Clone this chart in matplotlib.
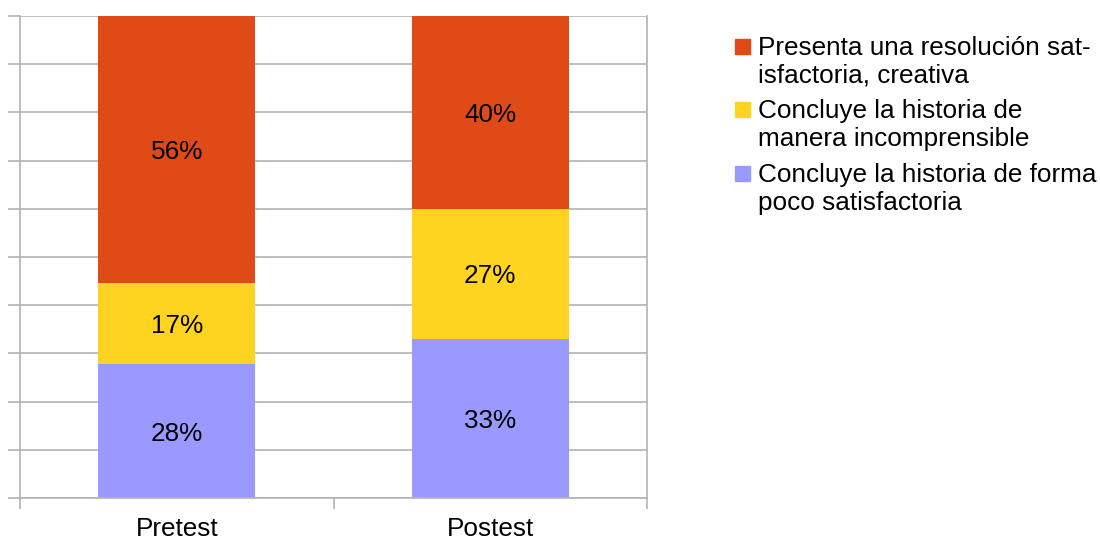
import matplotlib.pyplot as plt
import numpy as np
from matplotlib.patches import Rectangle

plt.rcParams['font.family'] = ['Liberation Sans', 'DejaVu Sans']

categories = ['Pretest', 'Postest']
series_names = ['Concluye la historia de forma\npoco satisfactoria',
                'Concluye la historia de\nmanera incomprensible',
                'Presenta una resolución sat-\nisfactoria, creativa']
poco = [28, 33]
incomprensible = [17, 27]
creativa = [56, 40]
colors = ['#9999ff', '#ffd320', '#df4a16']

values = np.array([poco, incomprensible, creativa], dtype=float)
totals = values.sum(axis=0)
pct = values / totals * 100

fs = 18.8

fig = plt.figure(figsize=(11, 5.42), dpi=100)
ax = fig.add_axes([20 / 1100, (542 - 498) / 542, 627 / 1100, 482 / 542])

x = np.arange(len(categories))
bottom = np.zeros(len(categories))
for i in range(3):
    ax.bar(x, pct[i], 0.5, bottom=bottom, color=colors[i], zorder=2)
    for xi, b, h, v in zip(x, bottom, pct[i], values[i]):
        ax.text(xi, b + h / 2, '%d%%' % v, fontsize=fs, color='black',
                ha='center', va='center_baseline', zorder=3)
    bottom += pct[i]

ax.set_xlim(-0.5, 1.5)
ax.set_ylim(0, 100)
ax.set_yticks(np.arange(0, 101, 10))
ax.set_yticklabels([])
ax.yaxis.grid(True, color='#b3b3b3', linewidth=1.2, zorder=0)
ax.set_axisbelow(True)

ax.set_xticks(x)
ax.set_xticklabels(categories, fontsize=fs)
ax.tick_params(axis='x', which='major', length=0, pad=14)
ax.set_xticks([-0.5, 0.5, 1.5], minor=True)
ax.tick_params(axis='x', which='minor', length=8, width=1.2, color='#b3b3b3')
ax.tick_params(axis='y', length=8.6, width=1.2, color='#b3b3b3')

for side in ['left', 'bottom', 'right']:
    ax.spines[side].set_color('#b3b3b3')
    ax.spines[side].set_linewidth(1.2)
ax.spines['top'].set_visible(False)

# legend drawn by hand so the square sits on the first line
legend_tops = [39, 102, 166]
legend_order = [2, 1, 0]
for top, idx in zip(legend_tops, legend_order):
    fig.patches.append(Rectangle((735 / 1100, 1 - (top + 15) / 542), 15 / 1100, 15 / 542,
                                 transform=fig.transFigure, color=colors[idx]))
    fig.text(758 / 1100, 1 - (top - 3) / 542, series_names[idx], fontsize=fs,
             va='top', ha='left', linespacing=1.2)

fig.savefig('out.png', dpi=100)
